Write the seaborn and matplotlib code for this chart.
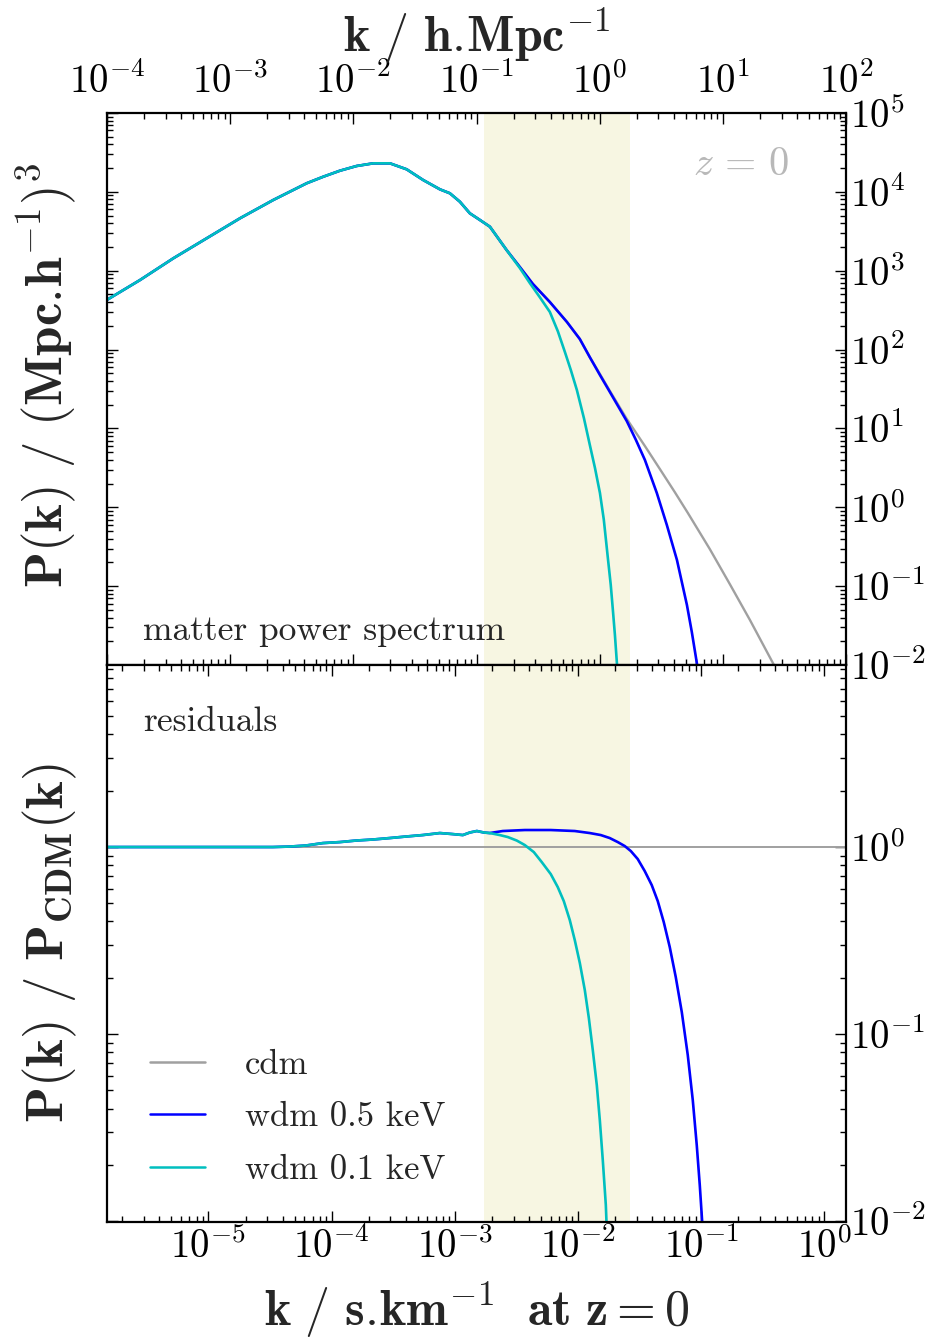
import matplotlib
matplotlib.use("Agg")
import matplotlib.pyplot as plt
import seaborn as sns
from matplotlib.ticker import LogLocator, NullFormatter, FixedLocator

# ---------------- data ----------------
# top panel: k in h/Mpc, P(k) in (Mpc/h)^3
k_common = [1.00e-4, 1.854e-4, 3.45e-4, 6.44e-4, 1.202e-3, 2.239e-3, 4.178e-3, 5.70e-3,
            7.78e-3, 1.064e-2, 1.452e-2, 1.982e-2, 2.710e-2, 3.690e-2, 5.05e-2, 6.08e-2,
            7.33e-2, 8.83e-2, 0.1067, 0.1285, 0.1754]
P_common = [427, 762, 1435, 2576, 4624, 7889, 12850, 15560,
            18540, 21280, 23010, 23010, 19320, 14130, 10760, 9594,
            7499, 5346, 4395, 3614, 1832]

k_cdm = k_common + [0.2249, 0.287, 0.394, 0.542, 0.690, 0.832, 1.005, 1.21, 1.66, 2.33,
                    3.08, 4.07, 5.20, 7.83, 11.4, 16.6, 25.5, 35.0]
P_cdm = P_common + [1114, 679, 401, 224, 136, 80.0, 49.0, 29.9, 13.2, 5.98,
                    3.06, 1.56, 0.847, 0.296, 0.106, 0.0372, 0.0106, 0.00417]

k_wdm05 = k_common + [0.2249, 0.287, 0.394, 0.542, 0.690, 0.832, 1.005, 1.21, 1.66, 1.97,
                      2.33, 2.91, 3.51, 4.24, 5.11, 5.60, 6.15, 6.50]
P_wdm05 = P_common + [1114, 679, 401, 224, 136, 80.0, 47.6, 29.0, 12.4, 7.14,
                      3.98, 1.52, 0.597, 0.215, 0.0577, 0.0262, 0.0106, 0.0056]

k_wdm01 = k_common + [0.2249, 0.271, 0.327, 0.394, 0.458, 0.522, 0.583, 0.653, 0.745,
                      0.832, 0.916, 1.005, 1.08, 1.17, 1.23, 1.28, 1.33, 1.38, 1.43]
P_wdm01 = P_common + [1081, 698, 460, 300, 170, 93.2, 55.1, 30.7, 13.5,
                      6.17, 3.15, 1.52, 0.70, 0.215, 0.104, 0.0499, 0.0240, 0.0106, 0.0048]

# bottom panel: k in s/km, ratio P/P_CDM
ks_cdm = [1.5e-6, 1.5]
r_cdm = [1.0, 1.0]

ks_rise = [1.50e-6, 8.51e-6, 3.33e-5, 4.58e-5, 6.18e-5, 8.49e-5, 1.167e-4, 1.572e-4,
           2.159e-4, 2.965e-4, 3.998e-4, 5.50e-4, 7.55e-4, 9.46e-4, 1.162e-3, 1.324e-3,
           1.510e-3, 1.719e-3, 1.922e-3]
r_rise = [1.000, 1.000, 1.000, 1.006, 1.019, 1.050, 1.063, 1.083,
          1.097, 1.117, 1.138, 1.159, 1.188, 1.174, 1.159, 1.196,
          1.218, 1.196, 1.188]

ks_wdm05 = ks_rise + [2.45e-3, 3.70e-3, 6.01e-3, 9.42e-3, 1.247e-2, 1.531e-2, 1.811e-2,
                      2.104e-2, 2.399e-2, 2.685e-2, 3.055e-2, 3.483e-2, 3.971e-2, 4.444e-2,
                      4.971e-2, 5.560e-2, 6.219e-2, 6.966e-2, 7.786e-2, 8.551e-2, 9.212e-2,
                      9.746e-2, 0.1030]
r_wdm05 = r_rise + [1.218, 1.233, 1.233, 1.218, 1.188, 1.159, 1.117,
                    1.063, 1.012, 0.952, 0.863, 0.744, 0.626, 0.514,
                    0.397, 0.292, 0.202, 0.131, 0.0773, 0.0444, 0.0255,
                    0.0156, 0.00895]

ks_wdm01 = ks_rise + [2.317e-3, 2.692e-3, 3.186e-3, 3.698e-3, 4.378e-3, 5.08e-3, 6.01e-3,
                      6.85e-3, 7.67e-3, 8.58e-3, 9.42e-3, 1.035e-2, 1.136e-2, 1.225e-2,
                      1.319e-2, 1.422e-2, 1.504e-2, 1.590e-2, 1.683e-2, 1.714e-2]
r_wdm01 = r_rise + [1.159, 1.131, 1.083, 1.025, 0.940, 0.831, 0.717,
                    0.611, 0.514, 0.407, 0.318, 0.240, 0.172, 0.122,
                    0.0821, 0.0533, 0.0347, 0.0212, 0.0122, 0.00895]

band_ks = [1.72e-3, 2.63e-2]      # shaded range in s/km
ks_per_hmpc = 0.015               # conversion between the two k axes

top_xticks = [1e-4, 1e-3, 1e-2, 1e-1, 1e0, 1e1, 1e2]
bot_xticks = [1e-5, 1e-4, 1e-3, 1e-2, 1e-1, 1e0]
top_yticks = [1e-2, 1e-1, 1e0, 1e1, 1e2, 1e3, 1e4, 1e5]
bot_yticks = [1e-2, 1e-1, 1e0]

labels = ["cdm", "wdm 0.5 keV", "wdm 0.1 keV"]
colors = ["#a0a0a0", "#0000ff", "#00bfbf"]

# ---------------- style ----------------
sns.set_theme(style="ticks")
plt.rcParams.update({
    "font.family": "serif",
    "font.serif": ["cmr10"],
    "mathtext.fontset": "cm",
    "axes.unicode_minus": False,
    "axes.formatter.use_mathtext": True,
    "axes.linewidth": 1.6,
    "axes.edgecolor": "black",
    "xtick.color": "black",
    "ytick.color": "black",
})

W, H = 933, 1339
fig = plt.figure(figsize=(W / 100, H / 100), dpi=100)
L, R = 107 / W, 846 / W
y_top, y_mid, y_bot = 113, 665, 1222
ax1 = fig.add_axes([L, 1 - y_mid / H, R - L, (y_mid - y_top) / H])
ax2 = fig.add_axes([L, 1 - y_bot / H, R - L, (y_bot - y_mid) / H])

band_col = "#f7f6e2"
lw_c, lw_w = 1.4, 1.9

# top panel
ax1.axvspan(band_ks[0] / ks_per_hmpc, band_ks[1] / ks_per_hmpc, color=band_col, lw=0, zorder=0)
sns.lineplot(x=k_cdm, y=P_cdm, ax=ax1, color=colors[0], lw=1.7, estimator=None, sort=False)
sns.lineplot(x=k_wdm05, y=P_wdm05, ax=ax1, color=colors[1], lw=lw_w, estimator=None, sort=False)
sns.lineplot(x=k_wdm01, y=P_wdm01, ax=ax1, color=colors[2], lw=lw_w, estimator=None, sort=False)
ax1.set_xscale("log")
ax1.set_yscale("log")
ax1.set_xlim(1e-4, 1e2)
ax1.set_ylim(1e-2, 1e5)
ax1.xaxis.set_major_locator(FixedLocator(top_xticks))
ax1.yaxis.set_major_locator(FixedLocator(top_yticks))

# bottom panel
ax2.axvspan(band_ks[0], band_ks[1], color=band_col, lw=0, zorder=0)
sns.lineplot(x=ks_cdm, y=r_cdm, ax=ax2, color=colors[0], lw=lw_c, estimator=None, sort=False, label=labels[0])
sns.lineplot(x=ks_wdm05, y=r_wdm05, ax=ax2, color=colors[1], lw=lw_w, estimator=None, sort=False, label=labels[1])
sns.lineplot(x=ks_wdm01, y=r_wdm01, ax=ax2, color=colors[2], lw=lw_w, estimator=None, sort=False, label=labels[2])
ax2.set_xscale("log")
ax2.set_yscale("log")
ax2.set_xlim(1.5e-6, 1.5)
ax2.set_ylim(0.0099, 9.4)
ax2.xaxis.set_major_locator(FixedLocator(bot_xticks))
ax2.yaxis.set_major_locator(FixedLocator(bot_yticks))

for ax in (ax1, ax2):
    ax.xaxis.set_minor_locator(LogLocator(base=10, subs=range(2, 10), numticks=100))
    ax.yaxis.set_minor_locator(LogLocator(base=10, subs=range(2, 10), numticks=100))
    ax.xaxis.set_minor_formatter(NullFormatter())
    ax.yaxis.set_minor_formatter(NullFormatter())
    ax.tick_params(which="both", direction="in", top=True, bottom=True, left=True, right=True,
                   width=1.0, labelsize=28)
    ax.tick_params(which="major", length=8)
    ax.tick_params(which="minor", length=4)
    ax.tick_params(axis="y", labelleft=False, labelright=True, pad=3)
    ax.grid(False)

ax1.tick_params(axis="x", labeltop=True, labelbottom=False, pad=9)
ax2.tick_params(axis="x", labeltop=False, labelbottom=True, pad=4)

# labels
ax1.xaxis.set_label_position("top")
ax1.set_xlabel(r"$\mathbf{k\ /\ h.\!Mpc^{-1}}$", fontsize=36, labelpad=7)
ax2.set_xlabel(r"$\mathbf{k\ /\ s.\!km^{-1}\ \ at\ z = 0}$", fontsize=36, labelpad=10)
ax1.set_ylabel(r"$\mathbf{P(k)\ /\ (Mpc.\!h^{-1})^3}$", fontsize=38)
ax2.set_ylabel(r"$\mathbf{P(k)\ /\ P_{CDM}(k)}$", fontsize=38)
ax1.yaxis.set_label_coords(-0.038, 0.525)
ax2.yaxis.set_label_coords(-0.038, 0.5)

ax1.text(0.924, 0.906, r"$z\,=\,0$", transform=ax1.transAxes, ha="right", va="center",
         fontsize=29, color="#b8b8b8")
ax1.text(0.049, 0.045, "matter power spectrum", transform=ax1.transAxes, ha="left",
         va="baseline", fontsize=25.5)
ax2.text(0.049, 0.881, "residuals", transform=ax2.transAxes, ha="left",
         va="baseline", fontsize=25.5)

leg = ax2.legend(loc="lower left", bbox_to_anchor=(0.039, 0.04), frameon=False,
                 fontsize=25, handlelength=1.6, handletextpad=1.15, labelspacing=0.6,
                 borderaxespad=0)
for line in leg.get_lines():
    line.set_linewidth(1.8)

fig.savefig("out.png", dpi=100)
